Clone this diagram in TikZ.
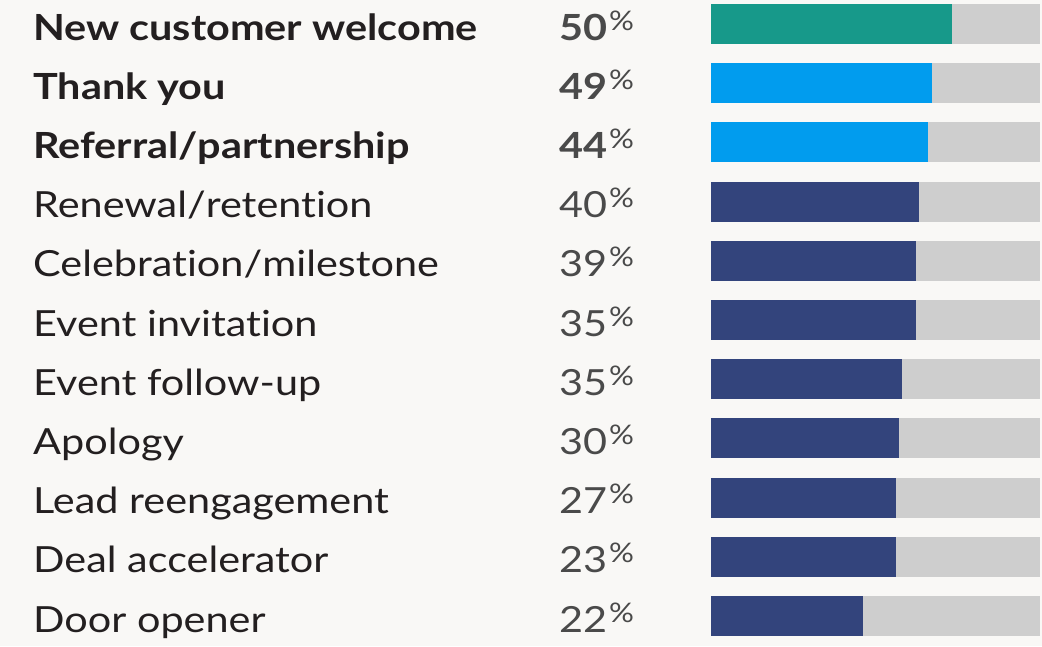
\documentclass[tikz,border=0pt]{standalone}
\usepackage{fontspec}
\setmainfont{Lato}[FakeStretch=1.15,Ligatures=NoCommon]
\definecolor{bg}{HTML}{F9F8F6}
\definecolor{teal}{HTML}{17998A}
\definecolor{sky}{HTML}{019CEE}
\definecolor{navy}{HTML}{33447C}
\definecolor{track}{HTML}{CECECE}
\definecolor{lbl}{HTML}{231F20}
\definecolor{pct}{HTML}{4A4A4A}
\tikzset{
  lab/.style={anchor=base west, inner sep=0pt, text=lbl, font=\fontsize{36}{42}\selectfont},
  num/.style={anchor=base west, inner sep=0pt, text=pct, font=\fontsize{36}{42}\selectfont},
}
\newcommand{\pc}{\hspace{2pt}\raisebox{10pt}{\fontsize{27}{30}\selectfont\mdseries\%}}
\begin{document}
\begin{tikzpicture}[x=1pt,y=-1pt]
\fill[bg] (0,0) rectangle (1042,646);
\useasboundingbox (0,0) rectangle (1042,646);
\foreach \i/\t/\v/\e/\c/\b in {
 0/New customer welcome/50/952/teal/1,
 1/Thank you/49/932/sky/1,
 2/Referral\slash partnership/44/928/sky/1,
 3/Renewal\slash retention/40/919/navy/0,
 4/Celebration\slash milestone/39/916/navy/0,
 5/Event invitation/35/916/navy/0,
 6/Event follow-up/35/902/navy/0,
 7/Apology/30/899/navy/0,
 8/Lead reengagement/27/896/navy/0,
 9/Deal accelerator/23/896/navy/0,
 10/Door opener/22/863/navy/0}{
  \pgfmathsetmacro{\top}{4+59.2*\i}
  \pgfmathsetmacro{\base}{40+59.2*\i}
  \ifnum\b=1
    \node[lab, font=\fontsize{36}{42}\selectfont\bfseries] (l\i) at (33,\base) {\t};
    \node[num, font=\fontsize{36}{42}\selectfont\bfseries] (n\i) at (559,\base) {\v\pc};
  \else
    \node[lab] (l\i) at (33,\base) {\t};
    \node[num] (n\i) at (559,\base) {\v\pc};
  \fi
  \fill[track] (711,\top) rectangle (1040,\top+40);
  \fill[\c] (711,\top) rectangle (\e,\top+40);
}
\end{tikzpicture}
\end{document}
